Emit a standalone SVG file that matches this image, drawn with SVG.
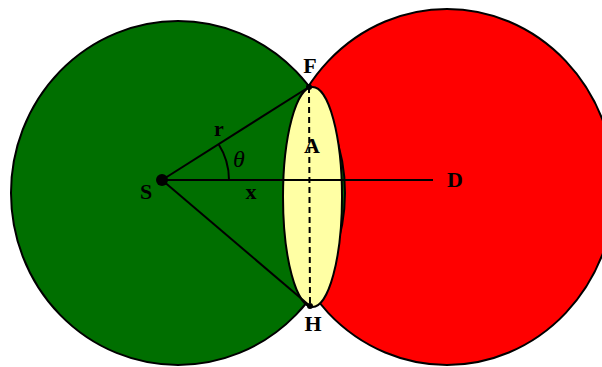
<svg xmlns="http://www.w3.org/2000/svg" width="602" height="367" viewBox="0 0 602 367">
<style>
.lbl{font-family:"Liberation Serif","Times New Roman",serif;font-weight:bold;font-size:22px;fill:#000;text-anchor:middle}
.it{font-family:"Liberation Serif","Times New Roman",serif;font-style:italic;font-size:24px;fill:#000;text-anchor:middle}
.ln{stroke:#000;stroke-width:2;fill:none}
.shape{stroke:#000;stroke-width:2}
</style>
<rect width="602" height="367" fill="#fff"/>
<g id="red-region"><ellipse class="shape" cx="447" cy="187" rx="168" ry="178" fill="#ff0000"/></g>
<g id="green-region"><ellipse class="shape" cx="178" cy="193" rx="167" ry="172" fill="#006f00"/></g>
<g id="lens-A"><ellipse class="shape" cx="312.5" cy="197" rx="29.5" ry="110" fill="#ffffa4"/>
<text class="lbl" x="312" y="153">A</text></g>
<g id="connectors">
<line class="ln" x1="162" y1="180" x2="433" y2="180"/>
<line class="ln" x1="162" y1="180" x2="309" y2="87"/>
<line class="ln" x1="162" y1="180" x2="310" y2="306"/>
<line class="ln" x1="309" y1="87" x2="310" y2="306" stroke-dasharray="6,4"/>
<path class="ln" d="M218.5,144 A67,67 0 0 1 229,180" stroke-width="1.5"/>
</g>
<g id="S"><circle cx="162" cy="180" r="6" fill="#000"/><text class="lbl" x="146" y="199">S</text></g>
<g id="F"><circle cx="309" cy="87" r="3" fill="#000"/><text class="lbl" x="310" y="73">F</text></g>
<g id="H"><circle cx="310" cy="306" r="3" fill="#000"/><text class="lbl" x="313" y="331">H</text></g>
<g id="D"><text class="lbl" x="455" y="187">D</text></g>
<g id="labels">
<text class="lbl" x="219" y="136">r</text>
<text class="lbl" x="251" y="199">x</text>
<text class="it" x="239" y="167">θ</text>
</g>
</svg>
